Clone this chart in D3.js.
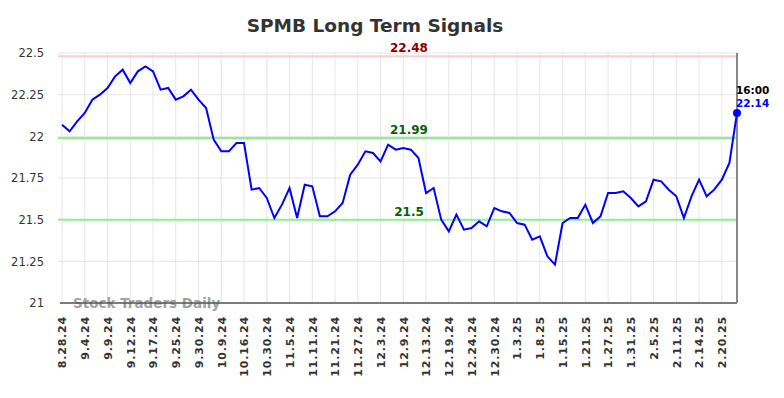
<!DOCTYPE html>
<html>
<head>
<meta charset="utf-8">
<script src="https://cdnjs.cloudflare.com/ajax/libs/d3/7.8.5/d3.min.js"></script>
<style>
  body { margin: 0; background: #fff; }
  text { font-family: "DejaVu Sans", sans-serif; }
</style>
</head>
<body>
<div id="chart"></div>
<script>
/* tick labels on the x axis, one every 3 points */
const dateLabels = ["8.28.24","9.4.24","9.9.24","9.12.24","9.17.24","9.25.24","9.30.24","10.9.24","10.16.24","10.30.24",
  "11.5.24","11.11.24","11.21.24","11.27.24","12.3.24","12.9.24","12.13.24","12.19.24","12.24.24","12.30.24",
  "1.3.25","1.8.25","1.15.25","1.21.25","1.27.25","1.31.25","2.5.25","2.11.25","2.14.25","2.20.25"];

/* closing prices */
const prices = [22.07,22.03,22.09,22.14,22.22,22.25,22.29,22.36,22.40,22.32,
  22.39,22.42,22.39,22.28,22.29,22.22,22.24,22.28,22.22,22.17,
  21.98,21.91,21.91,21.96,21.96,21.68,21.69,21.63,21.51,21.59,
  21.69,21.51,21.71,21.70,21.52,21.52,21.55,21.60,21.77,21.83,
  21.91,21.90,21.85,21.95,21.92,21.93,21.92,21.87,21.66,21.69,
  21.50,21.43,21.53,21.44,21.45,21.49,21.46,21.57,21.55,21.54,
  21.48,21.47,21.38,21.40,21.28,21.23,21.48,21.51,21.51,21.59,
  21.48,21.52,21.66,21.66,21.67,21.63,21.58,21.61,21.74,21.73,
  21.68,21.64,21.51,21.64,21.74,21.64,21.68,21.74,21.84,22.14];

const yTicks = [21, 21.25, 21.5, 21.75, 22, 22.25, 22.5];
const signalLevels = [22.48, 21.99, 21.5];
const signalColors = ["#8b0000", "#006400", "#006400"];
const lastTime = "16:00";

const width = 784, height = 398;
const plotLeft = 62, plotRight = 737, plotTop = 53, plotBottom = 303;

const svg = d3.select("#chart").append("svg")
  .attr("width", width).attr("height", height);

const x = d3.scaleLinear().domain([0, prices.length - 1]).range([plotLeft, plotRight]);
const y = d3.scaleLinear().domain([21, 22.5]).range([plotBottom, plotTop]);

/* title */
svg.append("text")
  .attr("x", 375).attr("y", 32)
  .attr("text-anchor", "middle")
  .style("font-size", "18.5px").style("font-weight", "bold").style("fill", "#333")
  .text("SPMB Long Term Signals");

/* grid */
svg.append("g").selectAll("line")
  .data(yTicks)
  .join("line")
  .attr("x1", plotLeft - 4).attr("x2", plotRight)
  .attr("y1", d => y(d)).attr("y2", d => y(d))
  .style("stroke", "#e6e6e6").style("stroke-width", 1);

svg.append("g").selectAll("line")
  .data(dateLabels)
  .join("line")
  .attr("x1", (d, i) => x(i * 3)).attr("x2", (d, i) => x(i * 3))
  .attr("y1", plotTop).attr("y2", plotBottom)
  .style("stroke", "#e6e6e6").style("stroke-width", 1);

/* y axis labels */
const yAxis = d3.axisLeft(y).tickValues(yTicks).tickSize(0).tickPadding(0)
  .tickFormat(d => String(+d.toFixed(2)));
const gy = svg.append("g").attr("transform", "translate(44,0)").call(yAxis);
gy.select(".domain").remove();
gy.selectAll("text").style("font-size", "11.5px").style("fill", "#333")
  .style("font-family", "DejaVu Sans, sans-serif");

/* signal lines */
svg.append("g").selectAll("line")
  .data(signalLevels)
  .join("line")
  .attr("x1", plotLeft - 4).attr("x2", plotRight)
  .attr("y1", d => y(d)).attr("y2", d => y(d))
  .style("stroke", (d, i) => i === 0 ? "#ffcccc" : "#90ee90")
  .style("stroke-width", 2);

svg.append("g").selectAll("text")
  .data(signalLevels)
  .join("text")
  .attr("x", 409).attr("y", d => y(d) - 4)
  .attr("text-anchor", "middle")
  .style("font-size", "12px").style("font-weight", "bold")
  .style("fill", (d, i) => signalColors[i])
  .text(d => String(d));

/* watermark */
svg.append("text")
  .attr("x", 73).attr("y", 308)
  .style("font-size", "13.5px").style("font-weight", "bold").style("fill", "#999")
  .style("opacity", 0.9)
  .text("Stock Traders Daily");

/* x axis */
const xAxis = d3.axisBottom(x).tickValues(dateLabels.map((d, i) => i * 3))
  .tickSize(0).tickPadding(0)
  .tickFormat((d) => dateLabels[d / 3]);
const gx = svg.append("g").attr("transform", "translate(0," + plotBottom + ")").call(xAxis);
gx.select(".domain").attr("d", "M" + (plotLeft - 2) + ",0H" + plotRight)
  .style("stroke", "#555").style("stroke-width", 1.5);
gx.selectAll("text")
  .attr("transform", "rotate(-90)")
  .attr("x", -13).attr("y", 0).attr("dy", "0.35em")
  .attr("text-anchor", "end")
  .style("font-size", "11px").style("font-weight", "bold").style("fill", "#333")
  .style("letter-spacing", "0.8px")
  .style("font-family", "DejaVu Sans, sans-serif");

/* last price marker */
svg.append("line")
  .attr("x1", plotRight).attr("x2", plotRight).attr("y1", plotTop).attr("y2", plotBottom)
  .style("stroke", "#888").style("stroke-width", 2);

/* price line */
const line = d3.line().x((d, i) => x(i)).y(d => y(d));
svg.append("path")
  .datum(prices)
  .attr("d", line)
  .style("fill", "none").style("stroke", "#0000ff").style("stroke-width", 2);

const last = prices.length - 1;
svg.append("circle")
  .attr("cx", x(last)).attr("cy", y(prices[last])).attr("r", 4)
  .style("fill", "#0000ff");

svg.append("text")
  .attr("x", x(last) - 1).attr("y", y(prices[last]) - 19)
  .style("font-size", "10.5px").style("font-weight", "bold").style("fill", "#000")
  .text(lastTime);
svg.append("text")
  .attr("x", x(last) - 1).attr("y", y(prices[last]) - 6)
  .style("font-size", "10.5px").style("font-weight", "bold").style("fill", "#0000ff")
  .text(prices[last].toFixed(2));
</script>
</body>
</html>
